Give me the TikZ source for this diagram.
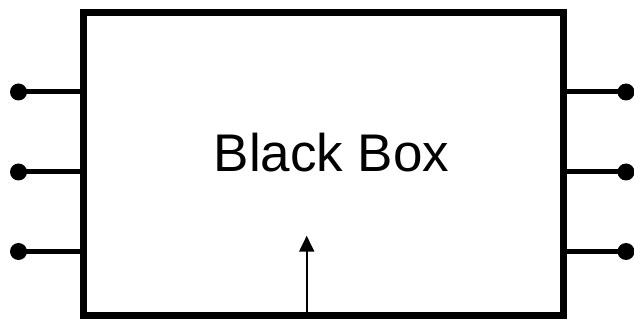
\documentclass[tikz,border=0pt]{standalone}
\usepackage{fontspec}
\setmainfont{Liberation Sans}
\usepackage{tikz}
\usetikzlibrary{arrows.meta, positioning, calc}

\begin{document}
\begin{tikzpicture}[x=1pt,y=-1pt,
    blackbox/.style={draw, line width=7pt, minimum width=479.5pt, minimum height=303pt, inner sep=0pt},
    pin/.style={circle, fill, minimum size=17pt, inner sep=0pt},
    lead/.style={line width=5pt}]
  \useasboundingbox (0,0) rectangle (634,320);

  % The box
  \node[blackbox] (box) at (323.3,164) {};
  \node[anchor=base, font=\fontsize{53}{60}\selectfont] (name) at (331.5,172) {Black Box};

  % Input pins
  \node[pin] (in1) at (18.5,92) {};
  \node[pin] (in2) at (18.5,172) {};
  \node[pin] (in3) at (18.5,251.5) {};

  % Output pins
  \node[pin] (out1) at (626,92) {};
  \node[pin] (out2) at (626,172) {};
  \node[pin] (out3) at (626,251.5) {};

  % Leads
  \draw[lead] (in1.center) -- (in1 -| box.west);
  \draw[lead] (in2.center) -- (in2 -| box.west);
  \draw[lead] (in3.center) -- (in3 -| box.west);
  \draw[lead] (out1.center) -- (out1 -| box.east);
  \draw[lead] (out2.center) -- (out2 -| box.east);
  \draw[lead] (out3.center) -- (out3 -| box.east);

  % Control arrow
  \coordinate (ctl) at (306.7,235.7);
  \draw[line width=2pt, -{Triangle[width=15pt,length=16pt]}] (ctl |- box.south) -- (ctl);
\end{tikzpicture}
\end{document}
